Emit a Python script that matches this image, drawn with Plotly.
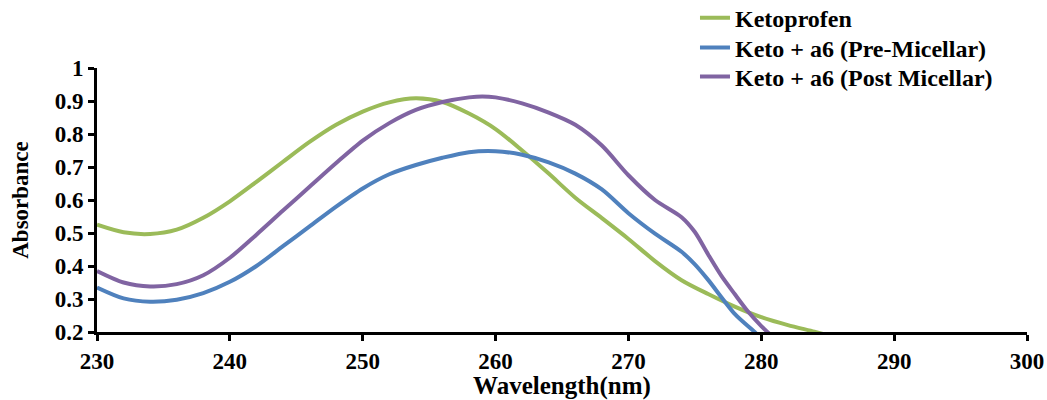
import plotly.graph_objects as go

wavelength = [230, 232, 234, 236, 238, 240, 242, 244, 246, 248, 250, 252, 254, 256, 258,
              260, 262, 264, 266, 268, 270, 272, 274, 276, 278, 280, 282, 284, 285]

ketoprofen = [0.525, 0.502, 0.497, 0.510, 0.546, 0.596, 0.655, 0.716, 0.776, 0.828, 0.868,
              0.896, 0.908, 0.897, 0.862, 0.815, 0.750, 0.680, 0.607, 0.545, 0.482, 0.415,
              0.357, 0.315, 0.277, 0.245, 0.221, 0.201, 0.19]

wl_pre = [230, 232, 234, 236, 238, 240, 242, 244, 246, 248, 250, 252, 254, 256, 258,
          260, 262, 264, 266, 268, 270, 272, 274, 275, 276, 278, 279.5, 280]
pre_micellar = [0.335, 0.302, 0.292, 0.298, 0.318, 0.352, 0.400, 0.460, 0.520, 0.580,
                0.635, 0.678, 0.706, 0.728, 0.745, 0.748, 0.737, 0.714, 0.680, 0.632,
                0.560, 0.498, 0.443, 0.405, 0.358, 0.255, 0.20, 0.18]

wl_post = [230, 232, 234, 236, 238, 240, 242, 244, 246, 248, 250, 252, 254, 256, 258,
           259, 260, 262, 264, 266, 268, 270, 272, 274, 275, 276, 277, 278, 279, 280, 281]
post_micellar = [0.385, 0.350, 0.338, 0.345, 0.372, 0.425, 0.495, 0.568, 0.640, 0.712,
                 0.780, 0.833, 0.873, 0.897, 0.911, 0.914, 0.911, 0.893, 0.865, 0.828,
                 0.765, 0.675, 0.600, 0.548, 0.503, 0.435, 0.370, 0.315, 0.262, 0.218, 0.18]

x_ticks = [230, 240, 250, 260, 270, 280, 290, 300]
y_ticks = [0.2, 0.3, 0.4, 0.5, 0.6, 0.7, 0.8, 0.9, 1.0]
y_tick_labels = ["0.2", "0.3", "0.4", "0.5", "0.6", "0.7", "0.8", "0.9", "1"]

FONT = "Liberation Serif"
LEG_FONT = dict(family=FONT, size=24, color="black")

fig = go.Figure()
fig.add_trace(go.Scatter(x=wavelength, y=ketoprofen, mode="lines", name="<b>Ketoprofen</b>",
                         legend="legend", showlegend=True,
                         line=dict(color="#9BBB59", width=4, shape="spline", smoothing=0.8)))
fig.add_trace(go.Scatter(x=wl_pre, y=pre_micellar, mode="lines", name="<b>Keto + a6 (Pre-Micellar)</b>",
                         legend="legend2", showlegend=True,
                         line=dict(color="#4F81BD", width=4, shape="spline", smoothing=0.8)))
fig.add_trace(go.Scatter(x=wl_post, y=post_micellar, mode="lines", name="<b>Keto + a6 (Post Micellar)</b>",
                         legend="legend3", showlegend=True,
                         line=dict(color="#8064A2", width=4, shape="spline", smoothing=0.8)))

leg_common = dict(xanchor="left", yanchor="middle", font=LEG_FONT,
                  bgcolor="rgba(0,0,0,0)", borderwidth=0)

fig.update_layout(
    width=1047, height=400,
    showlegend=True,
    margin=dict(l=97, r=20, t=68, b=68, autoexpand=False),
    plot_bgcolor="white", paper_bgcolor="white",
    font=dict(family=FONT, size=23, color="black"),
    legend=dict(x=0.643, y=1.189, **leg_common),
    legend2=dict(x=0.643, y=1.076, **leg_common),
    legend3=dict(x=0.643, y=0.966, **leg_common),
    xaxis=dict(range=[230, 300], tickvals=x_ticks, ticktext=[f"<b>{t}</b>" for t in x_ticks],
               showline=True, linecolor="black", linewidth=3, ticks="outside", ticklen=6,
               tickwidth=3, tickcolor="black", showgrid=False, zeroline=False, automargin=False,
               title=dict(text="<b>Wavelength(nm)</b>", font=dict(family=FONT, size=25), standoff=13),
               tickfont=dict(family=FONT, size=23)),
    yaxis=dict(range=[0.2, 1.0], tickvals=y_ticks,
               ticktext=[f"<b>{t}</b>" for t in y_tick_labels],
               showline=True, linecolor="black", linewidth=3, ticks="outside", ticklen=6,
               tickwidth=3, tickcolor="black", showgrid=False, zeroline=False, automargin=False,
               title=dict(text="<b>Absorbance</b>", font=dict(family=FONT, size=23), standoff=20),
               tickfont=dict(family=FONT, size=23)),
)

fig.write_html("out.html")
